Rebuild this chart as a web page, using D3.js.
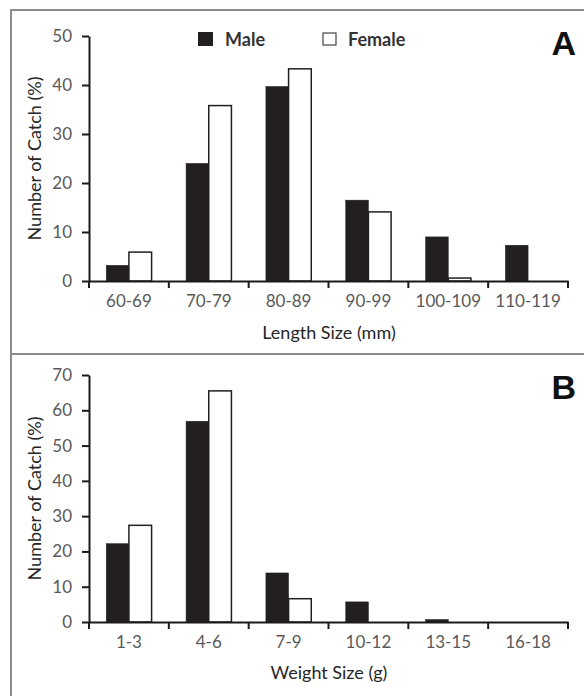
<!DOCTYPE html>
<html>
<head>
<meta charset="utf-8">
<script src="https://cdn.jsdelivr.net/npm/d3@7"></script>
<style>
  body { margin: 0; background: #fff; }
  svg { display: block; }
  .tick text { font-family: Lato, sans-serif; font-size: 17px; fill: #595959; }
  .domain, .tick line { stroke: #1a1a1a; stroke-width: 2; }
</style>
</head>
<body>
<div id="chart"></div>
<script>
// panel A - length classes
const lengthCats = ['60-69','70-79','80-89','90-99','100-109','110-119'];
const lengthMale = [3.2, 24.0, 39.7, 16.5, 9.0, 7.3];
const lengthFemale = [5.9, 35.8, 43.3, 14.1, 0.6, 0];
const lengthTicks = [0, 10, 20, 30, 40, 50];

// panel B - weight classes
const weightCats = ['1-3','4-6','7-9','10-12','13-15','16-18'];
const weightMale = [22.2, 56.9, 13.9, 5.7, 0.7, 0];
const weightFemale = [27.4, 65.5, 6.6, 0, 0, 0];
const weightTicks = [0, 10, 20, 30, 40, 50, 60, 70];

const sexes = ['Male', 'Female'];

const W = 584, H = 696;
const svg = d3.select('#chart')
    .append('svg')
        .attr('width', W)
        .attr('height', H);

// frame: only left + top edges visible, plus divider between panels
svg.append('path')
    .attr('d', `M11,${H} L11,10 L${W},10 M11,354 L${W},354`)
    .attr('fill', 'none')
    .attr('stroke', '#8c8c8c')
    .attr('stroke-width', 2);

function drawPanel(cats, male, female, ticks, top, bottom, xTitle, letter, titleY) {
    const g = svg.append('g');
    const x = d3.scaleBand()
        .domain(cats)
        .range([89, 568])
        .padding(0);
    const xs = d3.scaleBand()
        .domain(sexes)
        .range([0, x.bandwidth()])
        .paddingInner(0)
        .paddingOuter(0.76);
    const y = d3.scaleLinear()
        .domain([0, d3.max(ticks)])
        .range([bottom, top]);

    let rows = [];
    cats.forEach((c, i) => {
        rows.push({cat: c, sex: 'Male', val: male[i]});
        rows.push({cat: c, sex: 'Female', val: female[i]});
    });

    g.selectAll('rect.bar')
        .data(rows.filter(d => d.val > 0))
        .enter()
        .append('rect')
            .attr('class', 'bar')
            .attr('x', d => x(d.cat) + xs(d.sex))
            .attr('y', d => y(d.val))
            .attr('width', xs.bandwidth())
            .attr('height', d => bottom - y(d.val))
            .attr('fill', d => d.sex == 'Male' ? '#231f20' : '#fff')
            .attr('stroke', '#231f20')
            .attr('stroke-width', d => d.sex == 'Male' ? 0.5 : 1.5);

    // x axis: ticks at band edges, labels centered
    const xa = g.append('g')
        .attr('transform', `translate(0,${bottom})`)
        .call(d3.axisBottom(x).tickSize(0).tickPadding(14));
    xa.selectAll('.tick text').attr('dy', '0.71em');
    const edges = cats.map(c => x(c)).concat([x.range()[1]]);
    xa.selectAll('line.edge')
        .data(edges)
        .enter()
        .append('line')
            .attr('class', 'edge')
            .attr('x1', d => d).attr('x2', d => d)
            .attr('y1', 0).attr('y2', 7)
            .attr('stroke', '#1a1a1a')
            .attr('stroke-width', 2);

    g.append('g')
        .attr('transform', 'translate(89,0)')
        .call(d3.axisLeft(y).tickValues(ticks).tickSize(7).tickPadding(10).tickSizeOuter(0));

    g.append('text')
        .attr('x', 329)
        .attr('y', titleY)
        .attr('text-anchor', 'middle')
        .style('font-family', 'Lato, sans-serif')
        .style('font-size', '18px')
        .style('fill', '#262626')
        .text(xTitle);

    g.append('text')
        .attr('transform', `translate(41,${(top + bottom) / 2}) rotate(-90)`)
        .attr('text-anchor', 'middle')
        .style('font-family', 'Lato, sans-serif')
        .style('font-size', '18px')
        .style('fill', '#262626')
        .text('Number of Catch (%)');

    g.append('text')
        .attr('x', 576)
        .attr('y', top + (letter == 'A' ? 19 : 24))
        .attr('text-anchor', 'end')
        .style('font-family', '"Liberation Sans", Arial, sans-serif')
        .style('font-weight', 'bold')
        .style('font-size', '34px')
        .style('fill', '#111')
        .text(letter);
}

drawPanel(lengthCats, lengthMale, lengthFemale, lengthTicks, 36, 281, 'Length Size (mm)', 'A', 339);
drawPanel(weightCats, weightMale, weightFemale, weightTicks, 375, 622, 'Weight Size (g)', 'B', 679);

// legend (panel A only)
const legend = svg.append('g');
const legX = [198, 323];
legend.selectAll('rect')
    .data(sexes)
    .enter()
    .append('rect')
        .attr('x', (d, i) => legX[i])
        .attr('y', (d, i) => i == 0 ? 32 : 33)
        .attr('width', (d, i) => i == 0 ? 15 : 13)
        .attr('height', (d, i) => i == 0 ? 14 : 12)
        .attr('fill', (d, i) => i == 0 ? '#231f20' : '#fff')
        .attr('stroke', (d, i) => i == 0 ? 'none' : '#444')
        .attr('stroke-width', 1.2);
legend.selectAll('text')
    .data(sexes)
    .enter()
    .append('text')
        .attr('x', (d, i) => legX[i] + (i == 0 ? 27 : 25))
        .attr('y', 46)
        .style('font-family', 'Lato, sans-serif')
        .style('font-size', '18px')
        .style('font-weight', 'bold')
        .style('fill', '#333')
        .text(d => d);
</script>
</body>
</html>
